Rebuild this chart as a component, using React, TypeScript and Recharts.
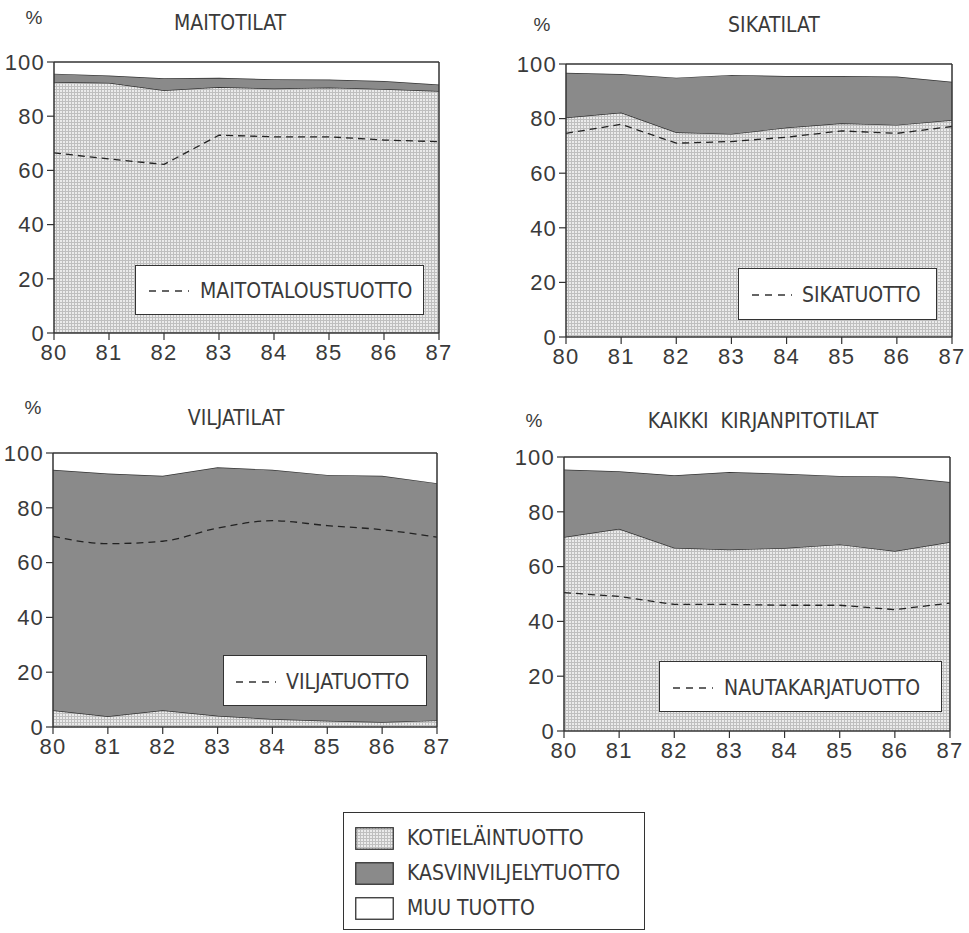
import React from 'react';
import { ComposedChart, Area, Line, XAxis, YAxis, ReferenceLine, Legend } from 'recharts';

const years = [80, 81, 82, 83, 84, 85, 86, 87];
const yTicks = [0, 20, 40, 60, 80, 100];

// MAITOTILAT
const maitoKotielain = [92.6, 92.3, 89.6, 90.8, 90.2, 90.6, 90.0, 89.3];
const maitoKasvin = [3.1, 2.7, 4.4, 3.4, 3.4, 2.9, 3.0, 2.4];
const maitoMuu = [4.3, 5.0, 6.0, 5.8, 6.4, 6.5, 7.0, 8.3];
const maitotalous = [66.5, 64.2, 62.2, 73.0, 72.4, 72.4, 71.2, 70.6];

// SIKATILAT
const sikaKotielain = [80.4, 82.2, 75.0, 74.4, 76.7, 78.3, 77.7, 79.5];
const sikaKasvin = [16.4, 14.1, 20.0, 21.6, 18.9, 17.3, 17.7, 14.0];
const sikaMuu = [3.2, 3.7, 5.0, 4.0, 4.4, 4.4, 4.6, 6.5];
const sikatuotto = [74.6, 77.9, 71.0, 71.6, 73.2, 75.5, 74.6, 77.1];

// VILJATILAT
const viljaKotielain = [6.1, 3.9, 6.1, 4.1, 2.9, 2.3, 1.8, 2.4];
const viljaKasvin = [87.8, 88.6, 85.6, 90.7, 91.0, 89.7, 89.9, 86.6];
const viljaMuu = [6.1, 7.5, 8.3, 5.2, 6.1, 8.0, 8.3, 11.0];
const viljatuotto = [69.6, 66.9, 67.8, 72.6, 75.3, 73.5, 72.0, 69.3];

// KAIKKI KIRJANPITOTILAT
const kaikkiKotielain = [70.8, 73.8, 66.9, 66.2, 66.8, 68.1, 65.7, 69.0];
const kaikkiKasvin = [24.6, 21.0, 26.4, 28.3, 27.1, 25.0, 27.2, 21.9];
const kaikkiMuu = [4.6, 5.2, 6.7, 5.5, 6.1, 6.9, 7.1, 9.1];
const nautakarja = [50.5, 49.1, 46.2, 46.2, 45.9, 45.9, 44.3, 46.7];

const legendLabels = ['KOTIELÄINTUOTTO', 'KASVINVILJELYTUOTTO', 'MUU TUOTTO'];

const TEXT = '#3a3a3a';
const LINE = '#333';
const DARK = '#8a8a8a';
const NARROW = "'Liberation Sans Narrow', 'DejaVu Sans Condensed', 'Liberation Sans', sans-serif";
const REG = "'Liberation Sans', Arial, sans-serif";

type Cfg = {
  id: string;
  title: string;
  lineName: string;
  kot: number[];
  kas: number[];
  muu: number[];
  line: number[];
  curve: 'linear' | 'monotone';
  left: number;
  top: number;
  w: number;
  h: number;
  yw: number;
  margin: { top: number; right: number; bottom: number; left: number };
  xh: number;
  titleX: number;
  titleY: number;
  pctX: number;
  pctY: number;
  box: { x: number; y: number; w: number; h: number; dash: number; text: number };
};

const panels: Cfg[] = [
  {
    id: 'p1', title: 'MAITOTILAT', lineName: 'MAITOTALOUSTUOTTO',
    kot: maitoKotielain, kas: maitoKasvin, muu: maitoMuu, line: maitotalous, curve: 'linear',
    left: 0, top: 0, w: 460, h: 370, yw: 54,
    margin: { top: 62, right: 21, bottom: 7, left: 0 }, xh: 30,
    titleX: 230, titleY: 23, pctX: 34, pctY: 17,
    box: { x: 135, y: 265, w: 289, h: 50, dash: 148, text: 199 },
  },
  {
    id: 'p2', title: 'SIKATILAT', lineName: 'SIKATUOTTO',
    kot: sikaKotielain, kas: sikaKasvin, muu: sikaMuu, line: sikatuotto, curve: 'linear',
    left: 500, top: 0, w: 469, h: 370, yw: 66,
    margin: { top: 64, right: 17, bottom: 3, left: 0 }, xh: 30,
    titleX: 774, titleY: 25, pctX: 542, pctY: 24,
    box: { x: 738, y: 268, w: 199, h: 52, dash: 751, text: 801 },
  },
  {
    id: 'p3', title: 'VILJATILAT', lineName: 'VILJATUOTTO',
    kot: viljaKotielain, kas: viljaKasvin, muu: viljaMuu, line: viljatuotto, curve: 'monotone',
    left: 0, top: 390, w: 460, h: 380, yw: 53,
    margin: { top: 63, right: 23, bottom: 13, left: 0 }, xh: 30,
    titleX: 236, titleY: 418, pctX: 33, pctY: 407,
    box: { x: 223, y: 655, w: 204, h: 51, dash: 235, text: 285 },
  },
  {
    id: 'p4', title: 'KAIKKI  KIRJANPITOTILAT', lineName: 'NAUTAKARJATUOTTO',
    kot: kaikkiKotielain, kas: kaikkiKasvin, muu: kaikkiMuu, line: nautakarja, curve: 'linear',
    left: 500, top: 390, w: 469, h: 380, yw: 64,
    margin: { top: 67, right: 19, bottom: 9, left: 0 }, xh: 30,
    titleX: 763, titleY: 421, pctX: 534, pctY: 420,
    box: { x: 659, y: 661, w: 283, h: 51, dash: 672, text: 723 },
  },
];

function DotPattern({ id }: { id: string }) {
  return (
    <pattern id={id} width={3} height={3} patternUnits="userSpaceOnUse">
      <rect x={0} y={0} width={3} height={3} fill="#bfbfbf" />
      <rect x={0} y={0} width={2} height={2} fill="#ebebeb" />
    </pattern>
  );
}

function Panel({ cfg }: { cfg: Cfg }) {
  const data = years.map((y, i) => ({
    year: y,
    kotielain: cfg.kot[i],
    kasvin: cfg.kas[i],
    muu: cfg.muu[i],
    line: cfg.line[i],
  }));
  const pid = `dots-${cfg.id}`;
  const b = cfg.box;
  const tickStyle = { fill: TEXT, fontSize: 22, fontFamily: REG, letterSpacing: 1.2 };
  return (
    <>
      <div style={{ position: 'absolute', left: cfg.left, top: cfg.top, width: cfg.w, height: cfg.h }}>
        <ComposedChart width={cfg.w} height={cfg.h} data={data} margin={cfg.margin}>
          <defs>
            <DotPattern id={pid} />
          </defs>
          <XAxis
            dataKey="year"
            type="number"
            domain={[80, 87]}
            ticks={years}
            interval={0}
            height={cfg.xh}
            tickSize={7}
            tickMargin={4}
            stroke={LINE}
            tick={tickStyle}
            axisLine={{ stroke: LINE, strokeWidth: 1.5 }}
            tickLine={{ stroke: LINE, strokeWidth: 1.2 }}
          />
          <YAxis
            type="number"
            domain={[0, 100]}
            ticks={yTicks}
            interval={0}
            width={cfg.yw}
            tickSize={7}
            tickMargin={2}
            stroke={LINE}
            tick={tickStyle}
            axisLine={{ stroke: LINE, strokeWidth: 1.5 }}
            tickLine={{ stroke: LINE, strokeWidth: 1.2 }}
          />
          <Area
            type="linear"
            dataKey="kotielain"
            stackId="s"
            fill={`url(#${pid})`}
            fillOpacity={1}
            stroke={LINE}
            strokeWidth={1.4}
            isAnimationActive={false}
            name="KOTIELÄINTUOTTO"
          />
          <Area
            type="linear"
            dataKey="kasvin"
            stackId="s"
            fill={DARK}
            fillOpacity={1}
            stroke={LINE}
            strokeWidth={1.4}
            isAnimationActive={false}
            name="KASVINVILJELYTUOTTO"
          />
          <Area
            type="linear"
            dataKey="muu"
            stackId="s"
            fill="#ffffff"
            fillOpacity={1}
            stroke="none"
            isAnimationActive={false}
            name="MUU TUOTTO"
          />
          <Line
            type={cfg.curve}
            dataKey="line"
            stroke="#222"
            strokeWidth={1.3}
            strokeDasharray="7 5"
            dot={false}
            activeDot={false}
            isAnimationActive={false}
            name={cfg.lineName}
          />
          <ReferenceLine y={100} stroke={LINE} strokeWidth={1.5} />
          <ReferenceLine x={87} stroke={LINE} strokeWidth={1.5} />
          <Legend
            layout="horizontal"
            verticalAlign="middle"
            align="center"
            wrapperStyle={{
              left: b.x - cfg.left,
              top: b.y - cfg.top,
              width: b.w,
              height: b.h,
              margin: 0,
              padding: 0,
            }}
            content={() => (
              <div
                style={{
                  position: 'relative',
                  width: b.w,
                  height: b.h,
                  boxSizing: 'border-box',
                  border: `1.5px solid ${LINE}`,
                  background: '#fff',
                }}
              >
                <svg
                  width={40}
                  height={4}
                  style={{ position: 'absolute', left: b.dash - b.x, top: b.h / 2 - 2 }}
                >
                  <line x1={0} y1={2} x2={40} y2={2} stroke="#333" strokeWidth={1.4} strokeDasharray="7 6" />
                </svg>
                <div
                  style={{
                    position: 'absolute',
                    left: b.text - b.x,
                    top: b.h / 2,
                    transform: 'translateY(-50%)',
                    fontFamily: NARROW,
                    fontSize: 21,
                    lineHeight: 1,
                    color: TEXT,
                    whiteSpace: 'nowrap',
                  }}
                >
                  {cfg.lineName}
                </div>
              </div>
            )}
          />
        </ComposedChart>
      </div>
      <div
        style={{
          position: 'absolute',
          left: cfg.titleX,
          top: cfg.titleY,
          transform: 'translate(-50%, -50%)',
          fontFamily: NARROW,
          fontSize: 21,
          lineHeight: 1,
          color: TEXT,
          whiteSpace: 'pre',
        }}
      >
        {cfg.title}
      </div>
      <div
        style={{
          position: 'absolute',
          left: cfg.pctX,
          top: cfg.pctY,
          transform: 'translate(-50%, -50%)',
          fontFamily: REG,
          fontSize: 19,
          lineHeight: 1,
          color: TEXT,
        }}
      >
        %
      </div>
    </>
  );
}

function Swatch({ kind }: { kind: number }) {
  return (
    <svg width={39} height={23} style={{ display: 'block' }}>
      <defs>
        <DotPattern id="dots-legend" />
      </defs>
      <rect
        x={0.75}
        y={0.75}
        width={37.5}
        height={21.5}
        fill={kind === 0 ? 'url(#dots-legend)' : kind === 1 ? DARK : '#fff'}
        stroke={LINE}
        strokeWidth={1.3}
      />
    </svg>
  );
}

export default function App() {
  return (
    <div style={{ position: 'absolute', left: 0, top: 0, width: 969, height: 933, background: '#fff', overflow: 'hidden' }}>
      {panels.map((p) => (
        <Panel key={p.id} cfg={p} />
      ))}
      <div
        style={{
          position: 'absolute',
          left: 343,
          top: 812,
          width: 302,
          height: 118,
          boxSizing: 'border-box',
          border: `1.5px solid ${LINE}`,
        }}
      >
        {legendLabels.map((label, i) => (
          <div key={label} style={{ position: 'absolute', left: 0, top: 25 + i * 35, height: 0 }}>
            <div style={{ position: 'absolute', left: 11, top: -11.5 }}>
              <Swatch kind={i} />
            </div>
            <div
              style={{
                position: 'absolute',
                left: 63,
                top: 0,
                transform: 'translateY(-50%)',
                fontFamily: NARROW,
                fontSize: 21,
                lineHeight: 1,
                color: TEXT,
                whiteSpace: 'nowrap',
              }}
            >
              {label}
            </div>
          </div>
        ))}
      </div>
    </div>
  );
}
